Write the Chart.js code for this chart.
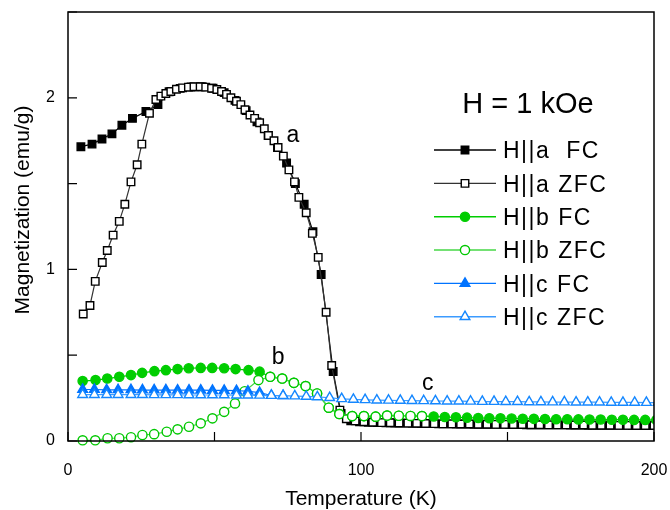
<!DOCTYPE html>
<html>
<head>
<meta charset="utf-8">
<script src="https://cdn.jsdelivr.net/npm/chart.js@4.4.1/dist/chart.umd.min.js"></script>
<style>
  html, body { margin: 0; padding: 0; background: #fff; }
</style>
</head>
<body>
<canvas id="grafica" width="670" height="510"></canvas>
<script>
// Datos: temperatura (K) y magnetización (emu/g)
const tempAFC = [4.4, 8.2, 11.6, 15.0, 18.4, 22.0, 26.6, 30.7, 34.5, 38.3, 42.0, 45.8, 49.5, 53.3, 57.0, 60.8, 64.5, 68.3, 71.5, 74.6, 77.6, 80.6, 83.6, 86.4, 90.5, 93.2,
  96.5, 99.5, 102.5, 105.5, 108.5, 111.5, 114.5, 117.5, 120.5, 123.5, 126.5, 129.5, 132.5, 135.5, 138.5, 141.5, 144.5, 147.5, 150.5, 153.5, 156.5, 159.5, 162.5, 165.5, 168.5, 171.5, 174.5, 177.5, 180.5, 183.5, 186.5, 189.5, 192.5, 195.5, 198.5];
const magAFC = [1.715, 1.73, 1.76, 1.79, 1.84, 1.88, 1.92, 1.96, 2.035, 2.055, 2.063, 2.064, 2.056, 2.03, 1.985, 1.925, 1.86, 1.78, 1.71, 1.62, 1.5, 1.38, 1.22, 0.97, 0.405, 0.16,
  0.118, 0.112, 0.109, 0.107, 0.106, 0.105, 0.104, 0.103, 0.102, 0.101, 0.1, 0.1, 0.099, 0.099, 0.098, 0.098, 0.097, 0.097, 0.096, 0.096, 0.095, 0.095, 0.094, 0.094, 0.094, 0.093, 0.093, 0.092, 0.092, 0.092, 0.091, 0.091, 0.09, 0.09, 0.09];

const tempAZFC = [5.2, 7.5, 9.3, 11.7, 13.4, 15.4, 17.5, 19.4, 21.5, 23.6, 25.2, 27.8, 30.0, 31.7, 33.4, 35.1, 37.0, 39.1, 41.1, 43.0, 45.1, 47.0, 49.0, 50.8, 52.4, 54.1, 55.6, 57.5, 59.0, 60.4, 62.1, 63.7, 65.4, 67.0, 68.4, 70.3, 71.7, 73.5, 75.4, 77.3, 78.8, 81.3, 83.4, 85.4, 88.1, 90.0, 92.8,
  95, 98, 101, 104, 107, 110, 113, 116, 119, 122, 125, 128, 131, 134, 137, 140, 143, 146, 149, 152, 155, 158, 161, 164, 167, 170, 173, 176, 179, 182, 185, 188, 191, 194, 197, 200];
const magAZFC = [0.74, 0.79, 0.93, 1.04, 1.11, 1.2, 1.28, 1.38, 1.51, 1.61, 1.73, 1.91, 1.99, 2.01, 2.025, 2.037, 2.05, 2.058, 2.062, 2.064, 2.064, 2.062, 2.056, 2.048, 2.037, 2.02, 2.0, 1.98, 1.96, 1.93, 1.9, 1.88, 1.855, 1.82, 1.78, 1.75, 1.71, 1.66, 1.58, 1.51, 1.42, 1.33, 1.21, 1.07, 0.75, 0.44, 0.18,
  0.13, 0.117, 0.112, 0.109, 0.107, 0.106, 0.105, 0.104, 0.103, 0.102, 0.101, 0.1, 0.1, 0.099, 0.099, 0.098, 0.098, 0.097, 0.097, 0.096, 0.096, 0.095, 0.095, 0.094, 0.094, 0.094, 0.093, 0.093, 0.092, 0.092, 0.092, 0.091, 0.091, 0.09, 0.09, 0.09];

const tempBFC = [5.0, 9.4, 13.4, 17.5, 21.5, 25.3, 29.5, 33.4, 37.4, 41.2, 45.3, 49.2, 53.3, 57.2, 61.6, 65.4, 69.0, 73.1, 77.1, 81.1, 85.0, 89.0, 92.6, 97.0, 101.0, 105.0, 108.9, 112.9, 116.9, 120.8,
  124.8, 128.6, 132.4, 136.2, 140.0, 143.8, 147.6, 151.4, 155.2, 159.0, 162.8, 166.6, 170.4, 174.2, 178.0, 181.8, 185.6, 189.4, 193.2, 197.0, 200.8];
const magBFC = [0.349, 0.355, 0.364, 0.374, 0.384, 0.397, 0.407, 0.413, 0.419, 0.424, 0.426, 0.426, 0.424, 0.419, 0.413, 0.404, 0.374, 0.364, 0.339, 0.32, 0.277, 0.194, 0.157, 0.145, 0.145, 0.142, 0.148, 0.147, 0.146, 0.145,
  0.143, 0.14, 0.138, 0.136, 0.134, 0.133, 0.132, 0.131, 0.13, 0.129, 0.128, 0.127, 0.127, 0.126, 0.125, 0.125, 0.124, 0.124, 0.123, 0.123, 0.122];

const tempBZFC = [5.0, 9.3, 13.5, 17.5, 21.5, 25.4, 29.4, 33.7, 37.4, 41.3, 45.3, 49.3, 53.3, 57.0, 60.3, 65.0, 69.0, 73.1, 77.1, 81.1, 85.0, 89.0, 92.6, 97.0, 101.0, 105.0, 108.9, 112.9, 116.9, 120.8];
const magBZFC = [0.004, 0.004, 0.016, 0.016, 0.022, 0.035, 0.04, 0.054, 0.068, 0.083, 0.103, 0.132, 0.17, 0.219, 0.29, 0.355, 0.374, 0.364, 0.339, 0.32, 0.277, 0.194, 0.157, 0.145, 0.145, 0.142, 0.148, 0.147, 0.146, 0.145];

const tempCFC = [5.0, 9.0, 13.2, 17.1, 21.5, 25.4, 29.4, 33.4, 37.4, 41.3, 45.3, 49.3, 53.3, 57.5, 61.4, 65.4, 69.4, 73.4];
const magCFC = [0.3, 0.3, 0.298, 0.298, 0.298, 0.297, 0.297, 0.297, 0.296, 0.296, 0.296, 0.295, 0.295, 0.293, 0.29, 0.282, 0.265, 0.264];

const tempCZFC = [5.0, 9.0, 13.2, 17.1, 21.5, 25.4, 29.4, 33.4, 37.4, 41.3, 45.3, 49.3, 53.3, 57.5, 61.4, 65.4, 69.4, 73.4, 77.4, 81.3, 85.1, 89.3, 93.4, 97.4,
  101.4, 105.4, 109.4, 113.4, 117.4, 121.4, 125.4, 129.4, 133.4, 137.4, 141.4, 145.4, 149.4, 153.4, 157.4, 161.4, 165.4, 169.4, 173.4, 177.4, 181.4, 185.4, 189.4, 193.4, 197.4, 201.4];
const magCZFC = [0.27, 0.27, 0.27, 0.27, 0.27, 0.27, 0.269, 0.269, 0.269, 0.268, 0.268, 0.268, 0.268, 0.267, 0.267, 0.266, 0.265, 0.264, 0.262, 0.26, 0.257, 0.252, 0.246, 0.242,
  0.24, 0.238, 0.237, 0.236, 0.235, 0.234, 0.233, 0.232, 0.232, 0.231, 0.23, 0.23, 0.229, 0.229, 0.228, 0.228, 0.227, 0.227, 0.226, 0.226, 0.226, 0.225, 0.225, 0.225, 0.224, 0.224];

const nombresSeries = ["H||a  FC", "H||a ZFC", "H||b FC", "H||b ZFC", "H||c FC", "H||c ZFC"];
const etiquetasX = [0, 100, 200];
const etiquetasY = [0, 1, 2];
const textoCampo = "H = 1 kOe";
const tituloX = "Temperature (K)";
const tituloY = "Magnetization (emu/g)";

const FUENTE = '"Liberation Sans", Arial, Helvetica, sans-serif';

// Estilo de cada serie (mismo orden que nombresSeries)
const ESTILOS = [
  { linea: "#000000", borde: "#000000", relleno: "#000000", forma: "rect", radio: 5.3 },
  { linea: "#333333", borde: "#000000", relleno: "#ffffff", forma: "rect", radio: 5.3 },
  { linea: "rgb(0,205,0)", borde: "rgb(0,205,0)", relleno: "rgb(0,205,0)", forma: "circle", radio: 4.6 },
  { linea: "rgb(70,215,70)", borde: "rgb(0,200,0)", relleno: "#ffffff", forma: "circle", radio: 4.6 },
  { linea: "rgb(0,115,255)", borde: "rgb(0,115,255)", relleno: "rgb(0,115,255)", forma: "triangle", radio: 5.6 },
  { linea: "rgb(60,155,255)", borde: "rgb(20,135,255)", relleno: "#ffffff", forma: "triangle", radio: 5.6 }
];

const pares = [[tempAFC, magAFC], [tempAZFC, magAZFC], [tempBFC, magBFC], [tempBZFC, magBZFC], [tempCFC, magCFC], [tempCZFC, magCZFC]];

const datasets = pares.map(([t, m], i) => ({
  label: nombresSeries[i],
  data: t.map((x, k) => ({ x: x, y: m[k] })),
  borderColor: ESTILOS[i].linea,
  borderWidth: 1.2,
  pointStyle: ESTILOS[i].forma,
  pointRadius: ESTILOS[i].radio,
  pointBorderColor: ESTILOS[i].borde,
  pointBackgroundColor: ESTILOS[i].relleno,
  pointBorderWidth: 1.4,
  pointHoverRadius: ESTILOS[i].radio,
  tension: 0,
  clip: { left: 8, top: 8, right: 0, bottom: 8 },
  order: pares.length - i   // la última serie queda encima
}));

function dibujarMarcador(ctx, estilo, x, y) {
  ctx.save();
  ctx.lineWidth = 1.4;
  ctx.strokeStyle = estilo.borde;
  ctx.fillStyle = estilo.relleno;
  ctx.beginPath();
  const r = estilo.radio;
  if (estilo.forma === "rect") {
    const s = r * Math.SQRT1_2;
    ctx.rect(x - s, y - s, 2 * s, 2 * s);
  } else if (estilo.forma === "circle") {
    ctx.arc(x, y, r, 0, Math.PI * 2);
  } else {
    ctx.moveTo(x, y - r);
    ctx.lineTo(x + r * Math.cos(Math.PI / 6), y + r / 2);
    ctx.lineTo(x - r * Math.cos(Math.PI / 6), y + r / 2);
    ctx.closePath();
  }
  ctx.fill();
  ctx.stroke();
  ctx.restore();
}

// Marco, marcas hacia dentro, títulos de ejes, letras de curvas y leyenda
const decoracion = {
  id: "decoracion",
  afterDatasetsDraw(chart) {
    const { ctx, chartArea: a, scales: { x, y } } = chart;
    ctx.save();
    ctx.strokeStyle = "#000";
    ctx.lineWidth = 1.5;
    ctx.strokeRect(a.left, a.top, a.right - a.left, a.bottom - a.top);
    ctx.lineWidth = 1.2;
    ctx.beginPath();
    x.ticks.forEach(t => {
      const px = x.getPixelForValue(t.value);
      ctx.moveTo(px, a.bottom);
      ctx.lineTo(px, a.bottom - 9);
    });
    y.ticks.forEach(t => {
      const py = y.getPixelForValue(t.value);
      ctx.moveTo(a.left, py);
      ctx.lineTo(a.left + 9, py);
    });
    ctx.stroke();

    ctx.fillStyle = "#000";
    ctx.textBaseline = "alphabetic";
    ctx.font = "21px " + FUENTE;
    ctx.textAlign = "center";
    ctx.fillText(tituloX, (a.left + a.right) / 2, 505);
    ctx.save();
    ctx.translate(28.5, 210);
    ctx.rotate(-Math.PI / 2);
    ctx.fillText(tituloY, 0, 0);
    ctx.restore();

    // letras a, b, c junto a cada curva
    ctx.font = "23px " + FUENTE;
    ctx.textAlign = "left";
    [["a", 74.6, 1.745], ["b", 69.5, 0.45], ["c", 120.8, 0.3]].forEach(([txt, tx, my]) => {
      ctx.fillText(txt, x.getPixelForValue(tx), y.getPixelForValue(my));
    });

    // leyenda
    ctx.font = "29px " + FUENTE;
    ctx.textAlign = "center";
    ctx.fillText(textoCampo, 528, 113);
    ctx.font = "23px " + FUENTE;
    ctx.textAlign = "left";
    if ("letterSpacing" in ctx) ctx.letterSpacing = "1.5px";
    nombresSeries.forEach((nombre, i) => {
      const fy = 150 + i * 33.35;
      ctx.strokeStyle = ESTILOS[i].linea;
      ctx.lineWidth = 1.4;
      ctx.beginPath();
      ctx.moveTo(434, fy);
      ctx.lineTo(496, fy);
      ctx.stroke();
      dibujarMarcador(ctx, ESTILOS[i], 465, fy);
      ctx.fillStyle = "#000";
      ctx.fillText(nombre, 503, fy + 8.3);
    });
    ctx.restore();
  }
};

new Chart(document.getElementById("grafica"), {
  type: "line",
  data: { datasets: datasets },
  options: {
    responsive: false,
    animation: false,
    devicePixelRatio: 1,
    layout: { padding: { top: 12, right: 16, left: 0, bottom: 0 } },
    plugins: { legend: { display: false }, tooltip: { enabled: false } },
    events: [],
    scales: {
      x: {
        type: "linear", min: 0, max: 200,
        grid: { display: false, drawTicks: false },
        border: { display: false },
        ticks: {
          stepSize: 50, autoSkip: false, maxRotation: 0, padding: 20, color: "#000",
          font: { family: FUENTE, size: 16 },
          callback: v => etiquetasX.includes(v) ? String(v) : ""
        },
        afterFit: s => { s.height = 69; s.paddingLeft = 0; s.paddingRight = 0; }
      },
      y: {
        type: "linear", min: 0, max: 2.5,
        grid: { display: false, drawTicks: false },
        border: { display: false },
        ticks: {
          stepSize: 0.5, autoSkip: false, padding: 13, color: "#000",
          font: { family: FUENTE, size: 16 },
          callback: v => etiquetasY.includes(v) ? String(v) : ""
        },
        afterFit: s => { s.width = 68; s.paddingTop = 0; s.paddingBottom = 0; }
      }
    }
  },
  plugins: [decoracion]
});
</script>
</body>
</html>
